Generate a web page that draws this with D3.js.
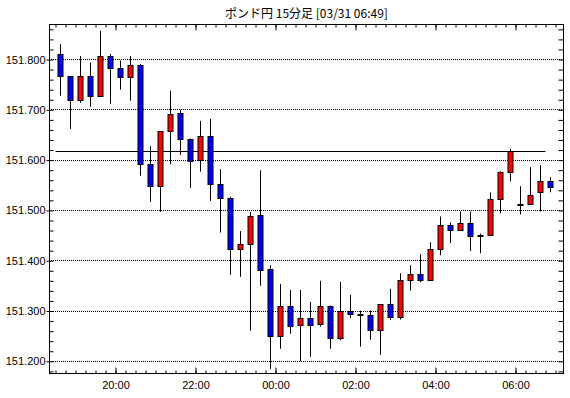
<!DOCTYPE html>
<html>
<head>
<meta charset="utf-8">
<script src="https://cdn.jsdelivr.net/npm/d3@7"></script>
<style>
    body { margin: 0; background: #fff; }
    svg text { font-family: "Liberation Sans", Arial, sans-serif; }
</style>
</head>
<body>
<svg id="candleSVG" width="570" height="398"></svg>
<script>
// GBP/JPY 15 minute bars, 03/30 18:30 -> 03/31 06:45
const chartTitle = "ポンド円 15分足 [03/31 06:49]";

const times = ["18:30","18:45","19:00","19:15","19:30","19:45","20:00","20:15","20:30","20:45",
    "21:00","21:15","21:30","21:45","22:00","22:15","22:30","22:45","23:00","23:15",
    "23:30","23:45","00:00","00:15","00:30","00:45","01:00","01:15","01:30","01:45",
    "02:00","02:15","02:30","02:45","03:00","03:15","03:30","03:45","04:00","04:15",
    "04:30","04:45","05:00","05:15","05:30","05:45","06:00","06:15","06:30","06:45"];

const opens = [151.810,151.767,151.720,151.767,151.727,151.806,151.783,151.765,151.790,151.592,
    151.548,151.657,151.693,151.641,151.600,151.647,151.552,151.524,151.424,151.433,
    151.490,151.383,151.250,151.309,151.272,151.286,151.274,151.309,151.246,151.301,
    151.294,151.293,151.262,151.313,151.289,151.361,151.373,151.361,151.423,151.472,
    151.462,151.474,151.452,151.452,151.522,151.576,151.512,151.512,151.536,151.558];

const highs = [151.831,151.767,151.807,151.794,151.857,151.811,151.798,151.807,151.791,151.628,
    151.657,151.738,151.700,151.643,151.678,151.682,151.582,151.527,151.459,151.497,
    151.580,151.391,151.354,151.342,151.342,151.318,151.360,151.311,151.358,151.332,
    151.301,151.301,151.313,151.344,151.375,151.391,151.413,151.437,151.488,151.476,
    151.498,151.498,151.454,151.536,151.578,151.623,151.548,151.586,151.590,151.566];

const lows = [151.728,151.662,151.714,151.706,151.727,151.712,151.740,151.718,151.569,151.517,
    151.497,151.592,151.610,151.545,151.577,151.519,151.456,151.372,151.368,151.261,
    151.350,151.185,151.225,151.255,151.200,151.209,151.269,151.225,151.242,151.286,
    151.229,151.243,151.213,151.282,151.283,151.341,151.357,151.361,151.411,151.435,
    151.462,151.419,151.415,151.449,151.494,151.558,151.492,151.512,151.498,151.536];

const closes = [151.767,151.720,151.767,151.727,151.806,151.783,151.765,151.790,151.592,151.548,
    151.657,151.691,151.641,151.598,151.647,151.552,151.524,151.424,151.433,151.488,
    151.381,151.251,151.309,151.271,151.286,151.272,151.309,151.246,151.301,151.295,
    151.294,151.262,151.313,151.289,151.361,151.373,151.361,151.423,151.472,151.462,
    151.474,151.450,151.452,151.522,151.576,151.618,151.512,151.530,151.558,151.546];

const lastPrice = 151.618;
const priceTicks = [151.2, 151.3, 151.4, 151.5, 151.6, 151.7, 151.8];
const timeTicks = ["20:00", "22:00", "00:00", "02:00", "04:00", "06:00"];

// evening times belong to 03/30, early morning to 03/31
function toDate(hm) {
    let h = +hm.slice(0, 2), m = +hm.slice(3, 5);
    return new Date(2025, 2, h >= 12 ? 30 : 31, h, m);
}

let candles = times.map((t, i) => ({
    time: toDate(t),
    open: opens[i], high: highs[i], low: lows[i], close: closes[i]
}));

const width = 570, height = 398;
const margin = {top: 24, right: 6, bottom: 24, left: 49};
const plotRight = width - margin.right;   // 564
const plotBottom = height - margin.bottom; // 374

let svg = d3.select("#candleSVG");

let xScale = d3.scaleTime()
    .domain([new Date(2025, 2, 30, 18, 20, 15), new Date(2025, 2, 31, 7, 12, 45)])
    .range([margin.left, plotRight]);

let yScale = d3.scaleLinear()
    .domain([151.1748, 151.8706])
    .range([plotBottom, margin.top]);

const crisp = v => Math.floor(v) + 0.5;
const half = 7.5 * 60 * 1000; // bar centre = start + 7.5 min

// title
svg.append("text")
    .attr("x", (margin.left + plotRight) / 2)
    .attr("y", 18)
    .attr("text-anchor", "middle")
    .style("font-family", "'Noto Sans CJK JP', sans-serif")
    .style("font-size", "12px")
    .text(chartTitle);

// dotted grid
svg.append("g").selectAll("line")
    .data(priceTicks)
    .join("line")
    .attr("x1", margin.left)
    .attr("x2", plotRight)
    .attr("y1", d => crisp(yScale(d)))
    .attr("y2", d => crisp(yScale(d)))
    .attr("stroke", "black")
    .attr("stroke-dasharray", "1,1");

// last price line
svg.append("line")
    .attr("x1", crisp(xScale(candles[0].time)))
    .attr("x2", crisp(xScale(candles[candles.length - 1].time)))
    .attr("y1", crisp(yScale(lastPrice)))
    .attr("y2", crisp(yScale(lastPrice)))
    .attr("stroke", "black");

// axes
let minorPrices = d3.range(0, 35).map(i => +(151.18 + i * 0.02).toFixed(2));
let minorTimes = d3.timeMinute.every(15).range(...xScale.domain());

function styleAxis(g) {
    g.select(".domain").remove();
    g.selectAll("text").style("font-size", "11px").attr("fill", "black")
        .style("font-family", "'Liberation Sans', Arial, sans-serif");
    g.selectAll("line").attr("stroke", "black");
}

svg.append("g")
    .attr("transform", `translate(${margin.left + 0.5},0)`)
    .call(d3.axisLeft(yScale).tickValues(minorPrices).tickSize(-4).tickFormat(""))
    .call(styleAxis);

svg.append("g")
    .attr("transform", `translate(${margin.left + 0.5},0)`)
    .call(d3.axisLeft(yScale).tickValues(priceTicks).tickSize(3).tickPadding(1)
        .tickFormat(d3.format(".3f")))
    .call(styleAxis);

svg.append("g")
    .attr("transform", `translate(${plotRight - 0.5},0)`)
    .call(d3.axisRight(yScale).tickValues(minorPrices).tickSize(-5).tickFormat(""))
    .call(styleAxis);

svg.append("g")
    .attr("transform", `translate(0,${plotBottom - 0.5})`)
    .call(d3.axisBottom(xScale).tickValues(minorTimes).tickSize(-3).tickFormat(""))
    .call(styleAxis);

svg.append("g")
    .attr("transform", `translate(0,${plotBottom - 0.5})`)
    .call(d3.axisBottom(xScale).tickValues(timeTicks.map(toDate)).tickSize(-6).tickPadding(8)
        .tickFormat(d3.timeFormat("%H:%M")))
    .call(styleAxis);

svg.append("g")
    .attr("transform", `translate(0,${margin.top + 0.5})`)
    .call(d3.axisTop(xScale).tickValues(minorTimes).tickSize(-3).tickFormat(""))
    .call(styleAxis);

svg.append("g")
    .attr("transform", `translate(0,${margin.top + 0.5})`)
    .call(d3.axisTop(xScale).tickValues(timeTicks.map(toDate)).tickSize(-6).tickFormat(""))
    .call(styleAxis);

// candles
let plot = svg.append("g");

plot.selectAll("line")
    .data(candles)
    .join("line")
    .attr("x1", d => crisp(xScale(+d.time + half)))
    .attr("x2", d => crisp(xScale(+d.time + half)))
    .attr("y1", d => yScale(d.high))
    .attr("y2", d => yScale(d.low))
    .attr("stroke", "black");

plot.selectAll("rect")
    .data(candles)
    .join("rect")
    .attr("x", d => crisp(xScale(+d.time + half)) - 2.5)
    .attr("width", 5)
    .attr("y", d => Math.round(yScale(Math.max(d.open, d.close))) + 0.5)
    .attr("height", d => Math.max(1, Math.round(yScale(Math.min(d.open, d.close))) - Math.round(yScale(Math.max(d.open, d.close)))))
    .attr("stroke", "black")
    .style("fill", d => d.close > d.open ? "#ff0000" : d.close < d.open ? "#0000ff" : "black");

// frame
svg.append("rect")
    .attr("x", margin.left + 0.5)
    .attr("y", margin.top + 0.5)
    .attr("width", plotRight - margin.left - 1)
    .attr("height", plotBottom - margin.top - 1)
    .attr("fill", "none")
    .attr("stroke", "black");
</script>
</body>
</html>
